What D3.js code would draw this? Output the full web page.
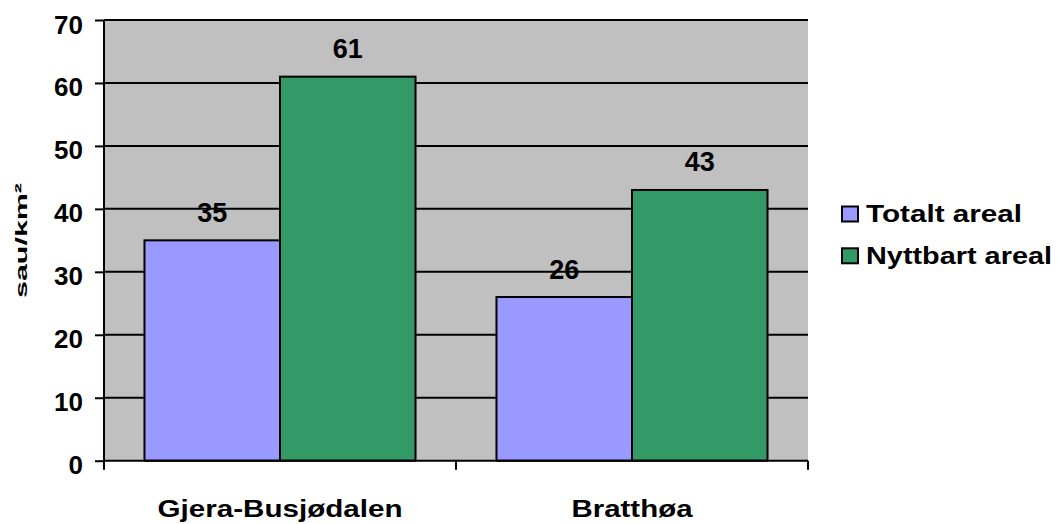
<!DOCTYPE html>
<html><head><meta charset="utf-8">
<script src="https://cdn.jsdelivr.net/npm/d3@7"></script>
<style>body{margin:0;background:#fff;} text{font-family:"Liberation Sans",Arial,sans-serif;font-weight:bold;fill:#000;}</style>
</head><body>
<svg id="c" width="1058" height="524"></svg>
<script>
const categories = ["Gjera-Busjødalen", "Bratthøa"];
const seriesNames = ["Totalt areal", "Nyttbart areal"];
const totalt = [35, 26];
const nyttbart = [61, 43];
const yTicks = [0, 10, 20, 30, 40, 50, 60, 70];
const colors = ["#9999FF", "#339966"];

const svg = d3.select("#c");
const L = 104, R = 808, T = 20, B = 460.7;
const x = d3.scaleBand().domain(categories).range([L, R]).paddingInner(0.23).paddingOuter(0.115);
const x1 = d3.scaleBand().domain(seriesNames).range([0, x.bandwidth()]);
const y = d3.scaleLinear().domain([0, 70]).range([B, T]);

svg.append("rect").attr("x", L).attr("y", T).attr("width", R - L).attr("height", B - T).attr("fill", "#C0C0C0");
svg.append("g").selectAll("line").data(yTicks.filter(d => d > 0)).join("line")
  .attr("x1", L).attr("x2", R).attr("y1", d => y(d)).attr("y2", d => y(d))
  .attr("stroke", "#000").attr("stroke-width", 2);

const data = categories.map((c, i) => ({c, vals: [totalt[i], nyttbart[i]]}));
const g = svg.append("g");
data.forEach(d => {
  d.vals.forEach((v, j) => {
    const bx = x(d.c) + x1(seriesNames[j]);
    g.append("rect").attr("x", bx).attr("y", y(v)).attr("width", x1.bandwidth()).attr("height", y(0) - y(v))
      .attr("fill", colors[j]).attr("stroke", "#000").attr("stroke-width", 2);
    g.append("text").attr("x", bx + x1.bandwidth() / 2).attr("y", y(v) - 18.5).attr("text-anchor", "middle")
      .attr("font-size", 27).text(v);
  });
});

// y axis
const ya = d3.axisLeft(y).tickValues(yTicks).tickSize(9).tickPadding(12);
const yg = svg.append("g").attr("transform", `translate(${L},0)`).call(ya);
yg.select(".domain").attr("stroke-width", 2).attr("d", `M0,${T}V${B}`);
yg.selectAll(".tick line").attr("stroke-width", 2);
yg.selectAll(".tick text").attr("font-size", 26).attr("font-family", "Liberation Sans, Arial")
  .attr("font-weight", "bold").attr("fill", "#000").attr("dy", null).attr("y", 13);

// x axis
const xg = svg.append("g").attr("transform", `translate(0,${B})`);
xg.append("line").attr("x1", L).attr("x2", R).attr("y1", 0).attr("y2", 0).attr("stroke", "#000").attr("stroke-width", 2);
const bounds = [L, (x(categories[0]) + x.bandwidth() + x(categories[1])) / 2, R];
xg.selectAll("line.t").data(bounds).join("line").attr("class", "t")
  .attr("x1", d => d).attr("x2", d => d).attr("y1", 0).attr("y2", 9).attr("stroke", "#000").attr("stroke-width", 2);
xg.selectAll("text").data(categories).join("text")
  .attr("x", d => x(d) - x.step() * x.paddingInner() / 2 + x.step() / 2).attr("y", 56).attr("text-anchor", "middle")
  .attr("font-size", 23).attr("textLength", (d, i) => [245, 121][i]).attr("lengthAdjust", "spacingAndGlyphs").text(d => d);

svg.append("text").attr("transform", "translate(27,240.5) rotate(-90)").attr("text-anchor", "middle")
  .attr("font-size", 17).attr("textLength", 115).attr("lengthAdjust", "spacingAndGlyphs").text("sau/km²");

// legend
const lg = svg.append("g").attr("transform", "translate(842,206.5)");
seriesNames.forEach((s, i) => {
  const row = lg.append("g").attr("transform", `translate(0,${i * 41.8})`);
  row.append("rect").attr("x", 0).attr("y", 0).attr("width", 16).attr("height", 15).attr("fill", colors[i]).attr("stroke", "#000").attr("stroke-width", 2);
  row.append("text").attr("x", 24).attr("y", 15.2).attr("font-size", 24)
    .attr("textLength", [156, 186][i]).attr("lengthAdjust", "spacingAndGlyphs").text(s);
});
</script>
</body></html>
